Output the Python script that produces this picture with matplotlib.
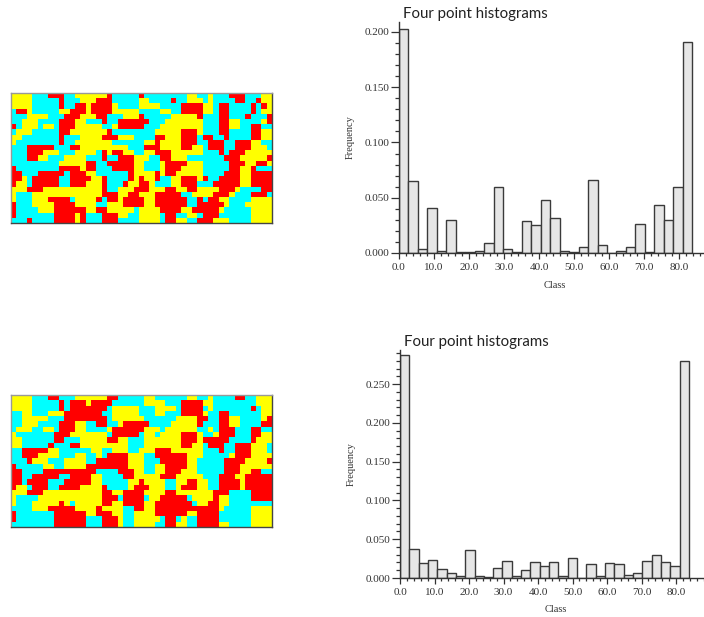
import matplotlib
matplotlib.use("Agg")
import matplotlib.pyplot as plt
import numpy as np
from matplotlib.colors import ListedColormap
from matplotlib.ticker import MultipleLocator, FormatStrFormatter

W, H = 704, 617
BIN_WIDTH = 2.7

# Frequency of each class bin.
top_freq = [0.203, 0.065, 0.004, 0.041, 0.002, 0.030, 0.001, 0.001, 0.002, 0.009, 0.060,
            0.004, 0.0005, 0.029, 0.025, 0.048, 0.032, 0.002, 0.0005, 0.005, 0.066, 0.007,
            0.0003, 0.002, 0.005, 0.026, 0.001, 0.043, 0.030, 0.060, 0.191]
bottom_freq = [0.287, 0.038, 0.019, 0.023, 0.011, 0.007, 0.003, 0.036, 0.003, 0.001, 0.013,
               0.022, 0.003, 0.010, 0.021, 0.015, 0.020, 0.003, 0.026, 0.0005, 0.018, 0.003,
               0.019, 0.018, 0.004, 0.006, 0.022, 0.030, 0.021, 0.015, 0.280]

# Facies maps: each row is runs of colour letter + end column (exclusive).
top_map = [
    "Y4 C7 R10 C12 Y18 R19 C24 R25 C33 Y35 C37 Y38 C41 R44 C47 Y49",
    "Y4 C9 R10 C13 Y16 R19 C24 Y26 C30 R31 C33 Y36 C37 Y38 C42 R44 C46 R47 Y49",
    "Y4 C9 R10 C12 R14 Y15 R19 Y20 C24 Y28 C32 R36 Y38 C39 R41 C45 R46 C47 R48 Y49",
    "C1 R3 Y4 C9 Y11 R14 Y15 R19 Y24 C28 Y30 C32 R36 Y38 C39 R41 C45 R46 C47 Y49",
    "C3 Y7 C10 R13 Y16 R18 C21 Y24 R25 C30 Y35 R36 C39 R41 C44 R45 C48 R49",
    "C2 Y5 C9 R12 Y14 C17 R18 C20 R26 C29 Y36 C39 R41 Y43 C47 Y48 R49",
    "R1 C2 Y5 C6 Y8 C9 R12 Y17 C19 Y20 R25 C28 Y36 C39 R41 Y43 C45 R47 C49",
    "C1 Y4 C9 R11 Y18 R19 C27 Y32 R35 Y36 C39 R41 C45 R47 Y49",
    "Y2 C9 R10 C13 Y17 R20 Y23 C27 R29 Y32 R35 C36 R38 C40 R41 C45 R47 Y49",
    "Y1 C9 R10 C12 Y19 C25 Y27 R28 Y32 R35 C37 R40 C42 R45 Y47 C49",
    "C3 R8 C11 R13 Y22 C25 R28 Y32 R34 Y36 C37 R40 C42 R45 Y48 C49",
    "C3 R6 Y9 C12 Y16 C17 R18 Y19 R21 Y23 C25 Y27 R30 Y36 C39 R40 C41 R44 Y49",
    "C3 R5 Y7 C10 Y14 C17 R18 C20 R23 Y26 C28 R30 Y33 C40 R43 Y48 R49",
    "C9 Y14 R16 C18 R23 Y25 C28 Y29 R33 Y36 C41 R44 Y46 R48 Y49",
    "R1 C9 R13 Y14 R16 C19 R23 Y25 C28 Y29 R32 Y36 C41 R43 Y45 R46 C49",
    "R2 C5 R10 C11 R14 Y16 C22 R23 Y27 R28 Y29 R31 Y36 C40 R43 Y45 R49",
    "R2 Y3 C4 R9 C11 R15 Y17 R18 C22 R23 Y24 R25 Y27 R28 C30 Y32 R35 Y36 R37 C39 R43 Y45 R49",
    "R1 Y3 C4 R9 C11 R14 Y17 R18 C21 R22 Y24 R26 Y27 C30 Y32 R35 C38 R43 Y45 R49",
    "Y3 R6 Y17 R18 C20 Y23 R26 Y29 R31 Y33 R35 Y39 R42 Y43 C47 R49",
    "Y1 C4 Y17 R20 Y22 R24 Y27 R32 C34 Y38 R41 Y42 C45 R48 C49",
    "Y1 C4 Y7 R11 C12 Y16 R17 C18 R20 Y21 R25 Y27 R33 C35 R36 C37 R39 Y41 C45 Y49",
    "R1 C4 Y8 R12 Y16 C18 Y21 R25 Y27 R33 C35 R40 Y41 C44 Y49",
    "R1 C5 Y8 R14 Y16 R18 Y23 C24 Y28 R32 Y34 R39 Y40 C45 Y49",
    "R1 C8 R12 Y13 R14 C17 R20 Y22 C24 Y28 C29 R31 C33 Y35 C36 R39 C45 Y49",
    "C3 R4 C8 R12 Y13 R14 C17 R20 C24 Y28 C29 R31 Y33 C35 R38 Y41 C45 Y49",
]
bottom_map = [
    "Y4 C7 R9 C12 Y18 R20 C25 Y27 C33 Y35 C37 Y38 C42 R44 C46 Y49",
    "Y4 C9 R10 C11 R14 Y15 R19 C25 Y29 C32 R36 Y38 C46 Y49",
    "Y4 C9 R10 C11 R18 C19 Y24 C27 Y31 C32 R36 C37 Y38 C45 R46 C47 Y49",
    "C2 Y4 C7 Y10 R17 C19 Y24 C27 Y29 C32 R36 Y37 C39 R41 C47 Y49",
    "C2 Y7 C10 R18 C19 Y25 C31 Y35 R37 C39 R41 Y43 C47 Y48 R49",
    "C2 Y5 C9 R12 Y14 C16 R18 C20 Y21 R26 C30 Y35 R36 C39 R41 Y43 C47 R49",
    "C1 Y4 C6 Y8 C9 R12 Y14 C18 Y19 R25 Y28 C29 Y35 C37 Y38 C39 R42 C45 R47 C49",
    "Y1 C8 R11 Y18 C19 R24 C25 Y27 C28 Y32 R35 Y36 C38 Y39 R42 C45 R47 Y49",
    "Y2 C8 R10 C13 Y18 R20 Y22 C25 Y32 R35 Y36 R41 C45 R46 Y49",
    "Y2 C7 R8 C11 R13 Y22 C25 Y32 R34 Y36 C37 R40 C42 R45 Y48 C49",
    "C2 R7 Y9 C15 Y17 C19 Y22 C24 Y27 R30 Y36 C39 R40 C42 R45 Y48 C49",
    "C2 R5 Y9 C12 Y14 C16 Y17 C18 R22 Y25 C27 R33 Y36 C41 Y42 R45 Y49",
    "C3 R4 Y7 C10 Y14 C16 R22 Y25 C28 R33 Y35 C40 R44 Y48 R49",
    "R1 C6 Y8 C10 Y14 R22 Y25 C27 Y29 R33 Y35 C40 R43 Y49",
    "R2 C6 R16 C20 R23 Y25 C27 Y29 R32 Y35 C40 R43 Y45 R47 C49",
    "R2 C4 R9 C11 R15 Y17 C21 R23 Y28 R31 Y36 C39 R42 Y44 R49",
    "R2 C3 R7 C10 R15 Y17 C22 Y24 R25 Y29 C31 Y33 R35 Y37 C39 R43 Y44 R49",
    "R1 Y3 C4 R7 C9 R13 Y17 R18 C22 Y23 R26 Y29 C31 Y32 R35 Y37 C39 R43 Y44 R49",
    "Y3 R6 Y17 R19 Y21 R25 Y29 R31 Y38 R41 C45 R49",
    "Y1 C5 Y17 R20 C21 R25 C26 Y28 R33 C34 Y38 R39 Y41 C45 R49",
    "Y1 C4 Y9 R10 Y11 C12 Y17 R19 Y21 R25 Y27 R34 C35 Y37 R39 Y41 C49",
    "C4 Y7 R12 Y16 R17 Y21 C23 R25 Y27 R39 Y40 C45 Y49",
    "R1 C8 R14 Y16 R19 Y21 C23 Y27 R33 Y35 R39 C45 Y49",
    "R1 C8 R14 C17 R20 Y21 C23 Y28 C29 R31 C32 Y33 C35 R39 C45 Y49",
    "C8 R14 C17 R20 Y21 C23 Y27 C29 R31 Y33 C35 R39 Y41 C45 Y49",
]
facies_colors = {"R": 0, "Y": 1, "C": 2}
facies_cmap = ListedColormap(["#ff0000", "#ffff00", "#00ffff"])


def px_axes(fig, left, top, right, bottom):
    return fig.add_axes([left / W, 1 - bottom / H, (right - left) / W, (bottom - top) / H])


def decode_map(rows):
    grid = []
    for row in rows:
        line, start = [], 0
        for run in row.split():
            end = int(run[1:])
            line += [facies_colors[run[0]]] * (end - start)
            start = end
        grid.append(line)
    return np.array(grid)


def draw_map(fig, rows, box):
    ax = px_axes(fig, *box)
    ax.imshow(decode_map(rows), cmap=facies_cmap, vmin=0, vmax=2,
              aspect="auto", interpolation="nearest")
    ax.set_xticks([])
    ax.set_yticks([])
    for side, spine in ax.spines.items():
        spine.set_linewidth(1.0)
        spine.set_color("#999999" if side in ("top", "left") else "#444444")


def draw_hist(fig, freq, box, xmax, ymax, title, title_xy, ylab_x, xlab_y):
    ax = px_axes(fig, *box)
    x = np.arange(len(freq)) * BIN_WIDTH
    ax.bar(x, freq, width=BIN_WIDTH, align="edge", color="#e6e6e6",
           edgecolor="#3a3a3a", linewidth=1.0, zorder=1)
    ax.set_xlim(0, xmax)
    ax.set_ylim(0, ymax)
    ax.patch.set_alpha(0)
    ax.spines["top"].set_visible(False)
    ax.spines["right"].set_visible(False)
    ax.spines["left"].set_linewidth(1.0)
    ax.spines["bottom"].set_linewidth(1.0)
    ax.spines["left"].set_color("#333333")
    ax.spines["bottom"].set_color("#333333")
    ax.xaxis.set_major_locator(MultipleLocator(10))
    ax.xaxis.set_minor_locator(MultipleLocator(2))
    ax.yaxis.set_major_locator(MultipleLocator(0.05))
    ax.yaxis.set_minor_locator(MultipleLocator(0.01))
    ax.xaxis.set_major_formatter(FormatStrFormatter("%.1f"))
    ax.yaxis.set_major_formatter(FormatStrFormatter("%.3f"))
    ax.tick_params(axis="y", which="major", length=5.8, width=0.9, color="#333333",
                   labelsize=8, pad=1, labelcolor="#333333")
    ax.tick_params(axis="y", which="minor", length=3, width=0.9, color="#333333")
    ax.tick_params(axis="x", which="major", length=4, width=0.9, color="#333333",
                   labelsize=8, pad=3.5, labelcolor="#333333")
    ax.tick_params(axis="x", which="minor", length=2.2, width=0.9, color="#333333")
    fig.text(title_xy[0] / W, 1 - title_xy[1] / H, title, family="Lato", fontsize=10.8,
             color="#222222", ha="left", va="center")
    fig.text(ylab_x / W, 1 - (box[1] + box[3]) / 2 / H, "Frequency", rotation=90, fontsize=7.5,
             color="#333333", ha="center", va="center")
    fig.text((box[0] + 156) / W, 1 - xlab_y / H, "Class", fontsize=7.5, color="#333333",
             ha="center", va="center")


plt.rcParams["font.family"] = ["Liberation Serif", "DejaVu Serif"]
fig = plt.figure(figsize=(W / 100, H / 100), dpi=100)

draw_map(fig, top_map, (11, 93, 272, 223))
draw_map(fig, bottom_map, (11, 395, 272, 527))

draw_hist(fig, top_freq, (399, 22, 704, 253), 87.1, 0.209, "Four point histograms",
          (403, 14), 350, 285)
draw_hist(fig, bottom_freq, (400, 350, 704, 578), 88.1, 0.294, "Four point histograms",
          (404, 342), 351, 609)

fig.savefig("out.png", dpi=100)
plt.close(fig)
